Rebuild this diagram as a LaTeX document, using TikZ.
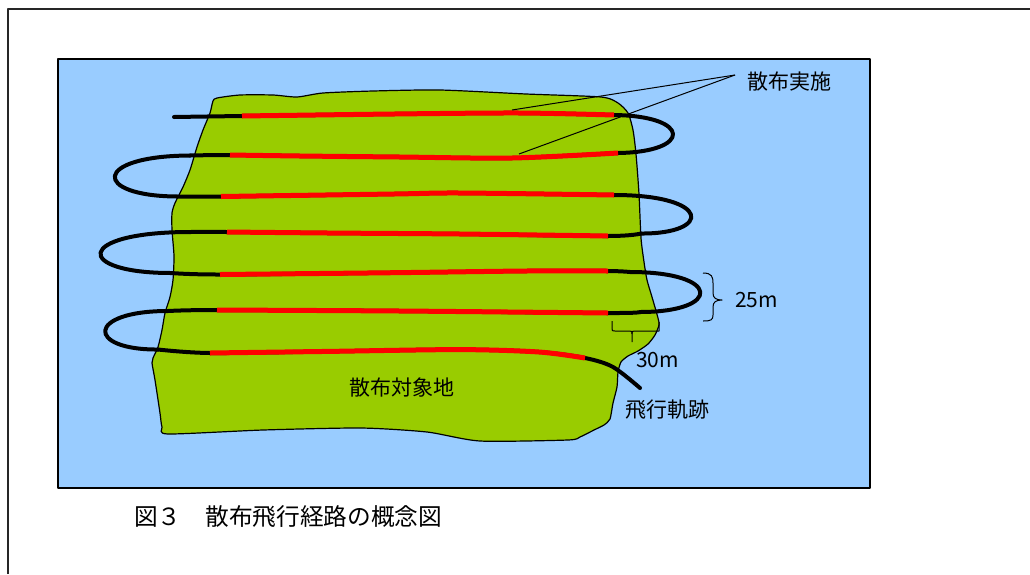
\documentclass[tikz,border=0pt]{standalone}
\usepackage{fontspec}
\newfontfamily\jp{Noto Sans CJK JP}
\definecolor{skyblue}{HTML}{99CCFF}
\definecolor{landgreen}{HTML}{99CC00}
\definecolor{sprayred}{HTML}{FF0000}
\begin{document}
\begin{tikzpicture}[x=1pt,y=-1pt,line join=round,
  lbl/.style={font=\jp\fontsize{21}{21}\selectfont, inner sep=0pt},
  captiontext/.style={font=\jp\fontsize{23.7}{24}\selectfont, inner sep=0pt},
  flight/.style={line width=4pt, black, line cap=round},
  spray/.style={line width=5pt, sprayred, line cap=butt},
  thinline/.style={line width=1pt, black}]
\useasboundingbox (0,0) rectangle (1030,574);
\fill[white] (0,0) rectangle (1030,574);
\draw[line width=1.5pt, black!85] (8,574) -- (8,9) -- (1030,9);
\draw[line width=1.5pt, fill=skyblue] (58,59) rectangle (870,488);
% target land
\draw[line width=1.2pt, fill=landgreen] plot[smooth cycle, tension=0.4] coordinates {
 (217,98) (240,95) (273,95) (297,97) (323,93) (373,91) (440,90) (526,94) (601,97)
 (618,103) (628,113) (633,130) (636,154) (639,194) (641,238) (644,262) (647,280)
 (652,297) (658,318) (659,325) (655,335) (648,344) (638,351) (628,356) (621,362)
 (618,372) (617,387) (613,403) (610,419) (604,425) (594,430) (580,437) (568,440)
 (480,441) (427,432) (361,428) (263,430) (168,434) (162,427) (160,413) (155,380)
 (152,363) (153,358) (158,347) (162,330) (165,313) (170,297) (173,280) (174,256)
 (172,230) (172,213) (175,203) (183,187) (190,170) (197,147) (203,130) (210,113) (213,101)};
% flight track (black)
\draw[flight] plot[smooth] coordinates {(174,117) (242,116) (394,114) (520,113) (614,115)};
\draw[flight] (614,115) .. controls (692,116) and (692,152) .. (618,153);
\draw[flight] plot[smooth] coordinates {(618,153) (512,158) (400,157) (300,156) (230,155) (190,155.5)};
\draw[flight] (190,155.5) .. controls (92,156) and (92,196) .. (177,196.5);
\draw[flight] plot[smooth] coordinates {(177,196.5) (221,196.5) (394,194) (460,193) (614,195)};
\draw[flight] (614,195) .. controls (712,195) and (712,234) .. (641,233.5);
\draw[flight] plot[smooth] coordinates {(641,233.5) (608,236) (460,234) (328,233) (227,232) (190,232)};
\draw[flight] (190,232) .. controls (74,232) and (74,273) .. (171,273);
\draw[flight] plot[smooth] coordinates {(171,273) (220,274.5) (394,272.7) (526,271) (608,271) (630,272)};
\draw[flight] (630,272) .. controls (722,272) and (722,312) .. (640,312);
\draw[flight] plot[smooth] coordinates {(640,312) (608,313) (400,311) (217,310) (168,311)};
\draw[flight] (168,311) .. controls (86,311) and (86,350) .. (158,349.5);
\draw[flight] plot[smooth] coordinates {(158,349.5) (210,353) (328.5,351.4) (460,349.6) (539,352) (585,358) (613,367) (640,388)};
% spraying sections (red)
\draw[spray] plot[smooth] coordinates {(242,116) (394,114) (520,113) (614,115)};
\draw[spray] plot[smooth] coordinates {(618,153) (512,158) (400,157) (300,156) (230,155)};
\draw[spray] plot[smooth] coordinates {(221,196.5) (394,194) (460,193) (614,195)};
\draw[spray] plot[smooth] coordinates {(608,236) (460,234) (328,233) (227,232)};
\draw[spray] plot[smooth] coordinates {(220,274.5) (394,272.7) (526,271) (608,271)};
\draw[spray] plot[smooth] coordinates {(608,313) (400,311) (217,310)};
\draw[spray] plot[smooth] coordinates {(210,353) (328.5,351.4) (460,349.6) (539,352) (585,358)};
% labels
\node[lbl, anchor=west] (spraylbl) at (747,82) {散布実施};
\node[lbl] (landlbl) at (402,387) {散布対象地};
\node[lbl, anchor=west] (tracklbl) at (625,410) {飛行軌跡};
\node[lbl, anchor=west] (d25) at (735,300) {25m};
\node[lbl, anchor=west] (d30) at (636,360) {30m};
\node[captiontext, anchor=west] (caption) at (134,517) {図３　散布飛行経路の概念図};
% leader lines
\coordinate (tip) at (735,75);
\coordinate (lineA) at (512,110);
\coordinate (lineB) at (519,154);
\draw[thinline] (tip) -- (lineA);
\draw[thinline] (tip) -- (lineB);
% 25 m brace
\coordinate (b25) at (722,300);
\draw[thinline] (703,273) .. controls (712,273) and (713,277) .. (713,283) -- (713,293)
  .. controls (713,298) and (716,300) .. (b25) .. controls (716,300) and (713,302) .. (713,307)
  -- (713,315) .. controls (713,320) and (711,321) .. (703,321);
% 30 m bracket
\coordinate (b30) at (632,342);
\draw[thinline] (612,321) -- (612,328) .. controls (612,331) .. (615,331) -- (629,331)
  .. controls (632,331) .. (632,334) -- (b30);
\draw[thinline] (632,334) .. controls (632,331) .. (635,331) -- (659,331) -- (659,322);
\end{tikzpicture}
\end{document}
